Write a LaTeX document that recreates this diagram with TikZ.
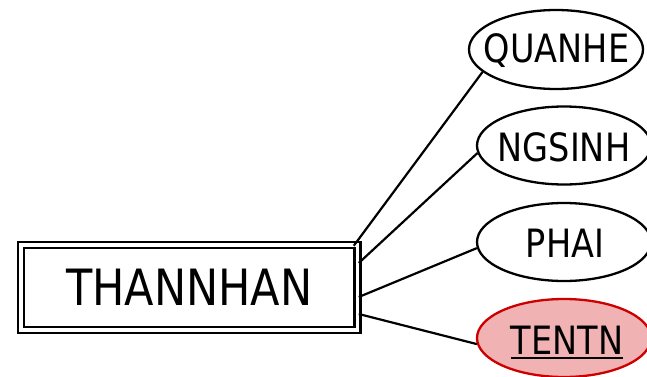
\documentclass[tikz,border=0pt]{standalone}
\usepackage{fontspec}
\setmainfont{DejaVu Sans}[FakeStretch=0.86]
\usetikzlibrary{shapes.geometric,calc}
\definecolor{keyfill}{RGB}{240,178,178}
\definecolor{keyline}{RGB}{204,0,0}
\newcommand\keyul[1]{\setbox0=\hbox{#1}\rlap{\rule[-4.5pt]{\wd0}{2.2pt}}\box0}
\tikzset{
  entitybox/.style={draw, rectangle, double, double distance=3.5pt, line width=2.5pt, inner sep=0pt,
    minimum width=336.5pt, minimum height=85pt, font=\fontsize{50}{51}\selectfont},
  attr/.style={draw, ellipse, line width=2.3pt, inner sep=0pt, fill=white,
    minimum width=174pt, minimum height=78pt},
  keyattr/.style={attr, fill=keyfill, draw=keyline},
  attrtext/.style={font=\fontsize{39}{40}\selectfont, inner sep=0pt},
  conn/.style={line width=2.2pt}
}
\begin{document}
\begin{tikzpicture}[x=1pt,y=1pt]
\useasboundingbox (0,0) rectangle (647,376);
\node[entitybox] (th) at (189.25,88.5) {THANNHAN};
\node[attr, minimum width=174pt, minimum height=79pt] (q) at (556,326.5) {};
\node[attr] (n) at (564,230.5) {};
\node[attr] (p) at (564,134) {};
\node[keyattr] (t) at (564,38) {};
\node[attrtext] (qt) at (556.5,325.5) {QUANHE};
\node[attrtext] (nt) at (564,228.5) {NGSINH};
\node[attrtext] (pt) at (565,132.5) {PHAI};
\node[attrtext] (tt) at (567,33.5) {\keyul{TENTN}};
\draw[conn] ($(th.north east)+(-5,-2)$) -- (q.197.8);
\draw[conn] ($(th.east)+(0,24.5)$) -- (n.185.6);
\draw[conn] ($(th.east)+(0,-9.5)$) -- (p.184.1);
\draw[conn] ($(th.east)+(0,-26.5)$) -- (t.184.6);
\end{tikzpicture}
\end{document}
